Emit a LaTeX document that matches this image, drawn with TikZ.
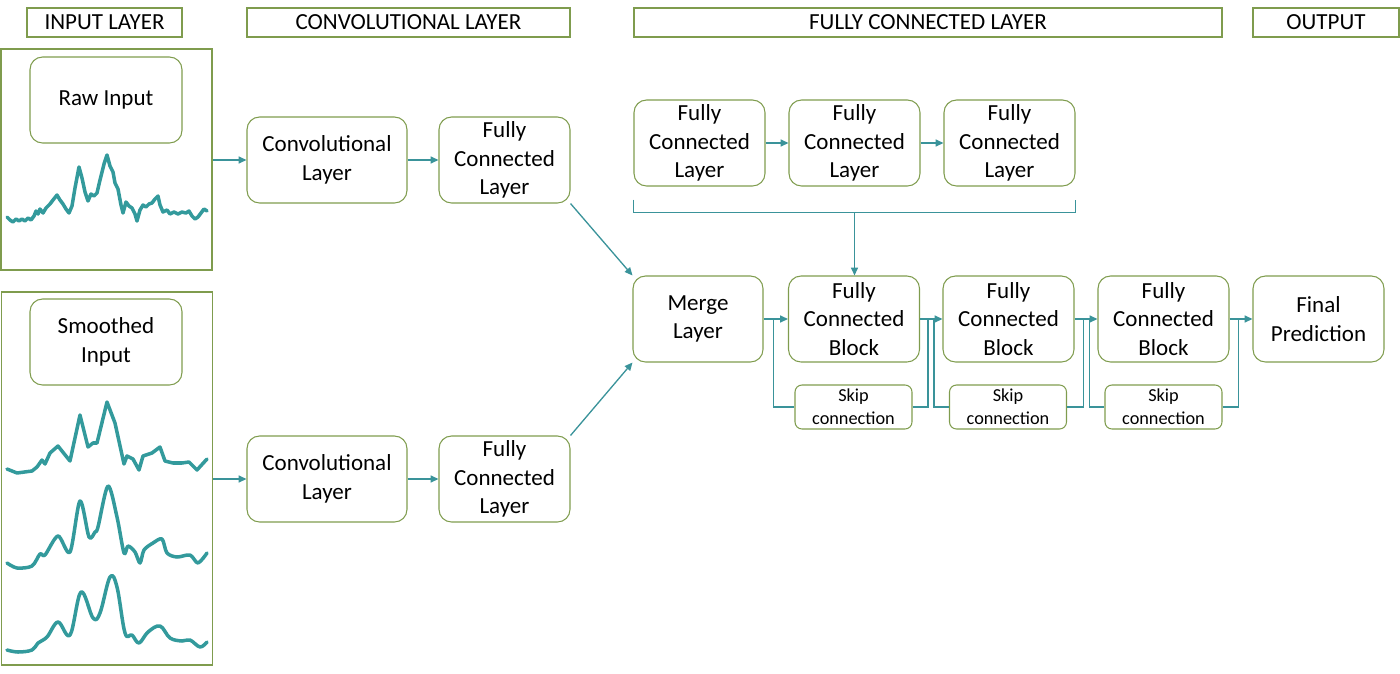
\documentclass[tikz,border=0pt]{standalone}
\usepackage{fontspec}
\setmainfont{Carlito}
\usetikzlibrary{arrows.meta,positioning}
\definecolor{boxgreen}{HTML}{7F9C4E}
\definecolor{linkteal}{HTML}{3A939A}
\definecolor{sigteal}{HTML}{339A9C}

\begin{document}
\begin{tikzpicture}
  [x=0.02cm, y=-0.02cm,
   >={Triangle[length=4.5pt,width=4pt]},
   every node/.style={font=\fontsize{13.1}{16.2}\selectfont, align=center, inner sep=0pt},
   headnode/.style={rectangle, draw=boxgreen, line width=0.7pt,
                    minimum height=0.58cm},
   panelnode/.style={rectangle, draw=boxgreen, line width=0.8pt,
                     minimum width=4.22cm},
   blocknode/.style={rectangle, rounded corners=0.25cm, draw=boxgreen,
                     line width=0.6pt, minimum width=2.62cm, minimum height=1.72cm},
   skipnode/.style={rectangle, rounded corners=0.14cm, draw=boxgreen,
                    line width=0.6pt, minimum width=2.34cm, minimum height=0.88cm,
                    font=\fontsize{10.4}{13}\selectfont},
   link/.style={color=linkteal, line width=0.75pt},
   sigline/.style={draw=sigteal, line width=2pt, line join=round, line cap=round}]
  \useasboundingbox (0,0) rectangle (1400,673);

  % column headers
  \node[headnode, minimum width=3.1cm]   (hin)   at (104.5,22.5) {INPUT LAYER};
  \node[headnode, minimum width=6.46cm]  (hconv) at (408.5,22.5) {CONVOLUTIONAL LAYER};
  \node[headnode, minimum width=11.76cm] (hfc)   at (928,22.5)   {FULLY CONNECTED LAYER};
  \node[headnode, minimum width=2.92cm]  (hout)  at (1326,22.5)  {OUTPUT};

  % input panels
  \node[panelnode, minimum height=4.42cm] (rawpanel)    at (106.5,159.5) {};
  \node[panelnode, minimum height=7.46cm] (smoothpanel) at (107,478.5)   {};
  \node[blocknode, minimum width=3.04cm] (rawin)    at (106,100) {Raw Input};
  \node[blocknode, minimum width=3.04cm] (smoothin) at (106,342) {Smoothed\\Input};

  % signals
  \draw[sigline] plot coordinates {(7,217) (10,220) (13,222) (16,219) (19,221) (22,219)
    (25,221) (28,218) (31,220) (34,216) (36,211) (38,214) (40,209) (43,213) (46,208)
    (50,204) (53,200) (57,195) (60,200) (63,204) (66,209) (69,213) (72,206) (75,188)
    (79,167) (82,178) (85,192) (88,201) (91,194) (94,196) (97,193) (100,180) (104,164)
    (107,155) (110,166) (113,172) (115,183) (118,189) (121,205) (123,213) (126,202)
    (129,206) (132,208) (135,214) (137,221) (140,210) (143,205) (146,207) (149,204)
    (152,203) (155,199) (158,196) (160,205) (163,212) (167,210) (170,214) (174,212)
    (178,214) (182,212) (186,213) (189,211) (192,216) (195,219) (198,217) (201,213)
    (204,209) (207,211)};
  \draw[sigline] plot coordinates {(7,469) (17,473) (32,471) (37,467) (42,460) (45,464)
    (50,453) (58,446) (70,461) (80,415) (88,447) (93,443) (97,443) (107,402) (115,423)
    (124,464) (127,456) (133,459) (139,470) (143,456) (152,453) (160,447) (165,461)
    (173,463) (182,463) (189,462) (197,470) (207,459)};
  \draw[sigline] plot[smooth, tension=0.5] coordinates {(7,563) (17,568) (32,566)
    (40,554) (45,555) (58,536) (70,552) (80,501) (89,537) (95,532) (98,527) (108,486)
    (117,517) (124,553) (128,546) (135,552) (140,563) (144,550) (153,543) (162,539)
    (167,553) (177,557) (190,555) (198,563) (207,553)};
  \draw[sigline] plot[smooth, tension=0.6] coordinates {(7,650) (18,652) (32,650)
    (38,643) (47,637) (58,622) (70,635) (81,592) (93,618) (100,613) (110,577) (117,587)
    (125,633) (132,635) (139,643) (148,632) (160,626) (170,638) (182,641) (190,640)
    (200,647) (207,642)};

  % convolutional branches
  \node[blocknode, minimum width=3.2cm] (conv1) at (327,160) {Convolutional\\Layer};
  \node[blocknode]                      (fc1)   at (504.5,160) {Fully\\Connected\\Layer};
  \node[blocknode, minimum width=3.2cm] (conv2) at (327,479) {Convolutional\\Layer};
  \node[blocknode]                      (fc2)   at (504.5,479) {Fully\\Connected\\Layer};

  % fully connected part
  \node[blocknode] (tfc1)  at (699.5,143)  {Fully\\Connected\\Layer};
  \node[blocknode] (tfc2)  at (854.5,143)  {Fully\\Connected\\Layer};
  \node[blocknode] (tfc3)  at (1009.5,143) {Fully\\Connected\\Layer};
  \node[blocknode, minimum width=2.6cm] (merge) at (698,319) {Merge\\Layer};
  \node[blocknode] (blk1)  at (854,319)    {Fully\\Connected\\Block};
  \node[blocknode] (blk2)  at (1008.5,319) {Fully\\Connected\\Block};
  \node[blocknode] (blk3)  at (1163.5,319) {Fully\\Connected\\Block};
  \node[blocknode] (final) at (1318.5,319) {Final\\Prediction};
  \node[skipnode]  (skip1) at (853.5,407)  {Skip\\connection};
  \node[skipnode]  (skip2) at (1008,407)   {Skip\\connection};
  \node[skipnode]  (skip3) at (1163.5,407) {Skip\\connection};

  % connectors
  \path[link,->]
  (rawpanel.east |- conv1)    edge (conv1.west)
  (conv1)                     edge (fc1)
  (smoothpanel.east |- conv2) edge (conv2.west)
  (conv2)                     edge (fc2)
  (fc1.south east)            edge (merge.north west)
  (fc2.north east)            edge (merge.south west)
  (tfc1)                      edge (tfc2)
  (tfc2)                      edge (tfc3)
  (merge)                     edge (blk1)
  (blk1)                      edge (blk2)
  (blk2)                      edge (blk3)
  (blk3)                      edge (final);

  \coordinate (brk) at ([yshift=-0.52cm]tfc2.south);
  \draw[link] ([yshift=-0.26cm]tfc1.south west) -- ([yshift=-0.52cm]tfc1.south west)
              -| ([yshift=-0.26cm]tfc3.south east);
  \draw[link,->] (brk) -- (brk |- blk1.north);

  % skip connections
  \draw[link] ([xshift=0.2cm]merge.east) |- (skip1.west);
  \draw[link] (skip1.east) -| ([xshift=0.16cm]blk1.east);
  \draw[link] ([xshift=0.28cm]blk1.east) |- (skip2.west);
  \draw[link] (skip2.east) -| ([xshift=0.18cm]blk2.east);
  \draw[link] ([xshift=0.3cm]blk2.east) |- (skip3.west);
  \draw[link] (skip3.east) -| ([xshift=0.18cm]blk3.east);
\end{tikzpicture}
\end{document}
